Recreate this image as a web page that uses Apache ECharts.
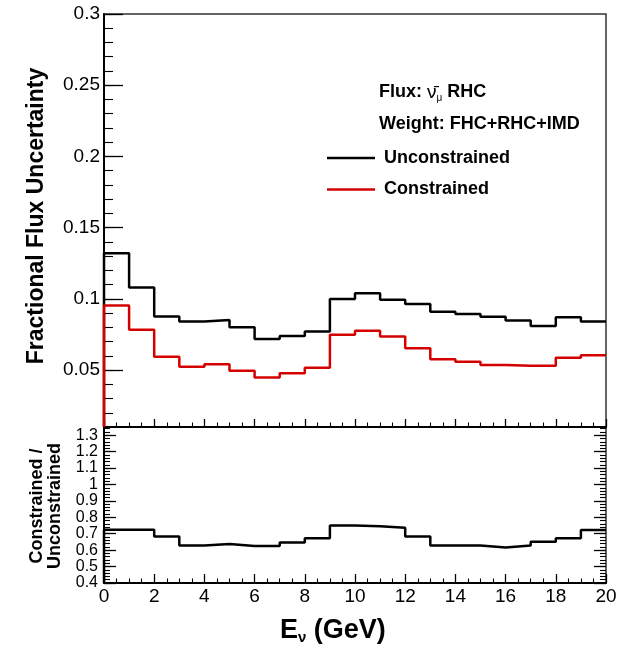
<!DOCTYPE html>
<html><head><meta charset="utf-8">
<script src="https://cdn.jsdelivr.net/npm/echarts@6/dist/echarts.min.js"></script>
<style>html,body{margin:0;padding:0;background:#fff}#c{width:634px;height:646px}</style>
</head><body><div id="c"></div>
<script>
// ---- data ----
const binEdges = [0,1,2,3,4,5,6,7,8,9,10,11,12,13,14,15,16,17,18,19,20];
const unconstrained = [0.132,0.108,0.0876,0.084,0.0852,0.080,0.0718,0.0739,0.077,0.0998,0.104,0.0993,0.0963,0.091,0.0894,0.0875,0.0847,0.081,0.0871,0.084];
const constrained   = [0.0953,0.0782,0.0594,0.0523,0.054,0.0495,0.0448,0.0477,0.0516,0.0748,0.0776,0.0735,0.0653,0.0575,0.0558,0.0535,0.053,0.053,0.0587,0.0604];
const ratio         = [0.725,0.724,0.683,0.628,0.637,0.626,0.626,0.646,0.673,0.75,0.746,0.737,0.683,0.628,0.628,0.616,0.628,0.651,0.673,0.723];
const topYLabels   = [0.05,0.1,0.15,0.2,0.25,0.3];
const ratioYLabels = [0.4,0.5,0.6,0.7,0.8,0.9,1,1.1,1.2,1.3];
const TOP_MIN = 0.01, TOP_MAX = 0.3;
const RATIO_MIN = 0.4, RATIO_MAX = 1.35;

const FONT = 'Liberation Sans, Arial, Helvetica, sans-serif';
const RED = '#d40000';

function histPoints(values, base) {
  const pts = [[binEdges[0], base]];
  values.forEach((v, i) => pts.push([binEdges[i], v]));
  pts.push([binEdges[values.length], values[values.length - 1]]);
  return pts;
}

const chart = echarts.init(document.getElementById('c'), null, {renderer: 'canvas'});

const xBase = (gridIndex, showLabels, majorLen, minorLen) => ({
  type: 'value', gridIndex, min: 0, max: 20, interval: 2,
  axisLine: {show: true, onZero: false, lineStyle: {color: '#000', width: 2}},
  axisTick: {show: true, inside: true, length: majorLen, lineStyle: {color: '#000', width: 1.3}},
  minorTick: {show: true, splitNumber: 4, length: minorLen, lineStyle: {color: '#000', width: 1.1}},
  axisLabel: {show: showLabels, fontSize: 19, color: '#000', fontFamily: FONT, margin: 4},
  splitLine: {show: false}, minorSplitLine: {show: false}
});

const yMinor = (gridIndex, min, max, interval, len, position, labels, labelSize, margin) => ({
  type: 'value', gridIndex, min, max, interval, position,
  axisLine: {show: position === 'left', onZero: false, lineStyle: {color: '#000', width: 2}},
  axisTick: {show: true, inside: true, length: len, lineStyle: {color: '#000', width: 1.1}},
  axisLabel: labels ? {show: true, customValues: labels, fontSize: labelSize, color: '#000', fontFamily: FONT, margin} : {show: false},
  splitLine: {show: false}
});
const yMajor = (gridIndex, min, max, values, len, position) => ({
  type: 'value', gridIndex, min, max, position,
  axisLine: {show: false},
  axisTick: {show: true, inside: true, length: len, customValues: values, lineStyle: {color: '#000', width: 1.3}},
  axisLabel: {show: false},
  splitLine: {show: false}
});

const option = {
  animation: false,
  backgroundColor: '#fff',
  grid: [
    {left: 104, right: 28, top: 14, height: 413, show: true, borderColor: '#333', borderWidth: 1.5, backgroundColor: '#fff'},
    {left: 104, right: 28, top: 427, height: 156, show: true, borderColor: '#333', borderWidth: 1.5, backgroundColor: '#fff'}
  ],
  xAxis: [xBase(0, false, 8, 4.5), xBase(1, true, 9, 4.5)],
  yAxis: [
    yMinor(0, TOP_MIN, TOP_MAX, 0.01, 9, 'left', topYLabels, 19, 4),
    yMajor(0, TOP_MIN, TOP_MAX, topYLabels, 19, 'left'),
    yMinor(1, RATIO_MIN, RATIO_MAX, 0.02, 6, 'left', ratioYLabels, 16, 6),
    yMajor(1, RATIO_MIN, RATIO_MAX, ratioYLabels, 12, 'left'),
    yMinor(1, RATIO_MIN, RATIO_MAX, 0.02, 6, 'right', null),
    yMajor(1, RATIO_MIN, RATIO_MAX, ratioYLabels, 12, 'right')
  ],
  legend: {
    data: ['Unconstrained', 'Constrained'],
    orient: 'vertical', left: 322, top: 143, itemGap: 11.5,
    icon: 'rect', itemWidth: 48, itemHeight: 2.5,
    textStyle: {fontSize: 18, fontWeight: 'bold', color: '#000', fontFamily: FONT, lineHeight: 20, padding: [0, 0, 0, 4]}
  },
  series: [
    {name: 'Unconstrained', type: 'line', step: 'end', xAxisIndex: 0, yAxisIndex: 0, showSymbol: false, symbol: 'none',
     lineStyle: {color: '#000', width: 2.5}, itemStyle: {color: '#000'}, data: histPoints(unconstrained, TOP_MIN), z: 3},
    {name: 'Constrained', type: 'line', step: 'end', xAxisIndex: 0, yAxisIndex: 0, showSymbol: false, symbol: 'none',
     lineStyle: {color: RED, width: 2.5}, itemStyle: {color: RED}, data: histPoints(constrained, TOP_MIN), z: 4},
    {name: 'Ratio', type: 'line', step: 'end', xAxisIndex: 1, yAxisIndex: 2, showSymbol: false, symbol: 'none',
     lineStyle: {color: '#000', width: 2.5}, itemStyle: {color: '#000'}, data: histPoints(ratio, RATIO_MIN), z: 3}
  ],
  graphic: [
    {type: 'text', left: 379, top: 83, z: 10, style: {
      text: '{b|Flux: }{n|ν̄}{s|μ}{b| RHC}',
      rich: {
        b: {fontSize: 18, fontWeight: 'bold', fontFamily: FONT, fill: '#000', lineHeight: 22},
        n: {fontSize: 19, fontWeight: 'normal', fontFamily: FONT, fill: '#000', lineHeight: 22},
        s: {fontSize: 10, fontWeight: 'normal', fontFamily: FONT, fill: '#000', lineHeight: 10, verticalAlign: 'bottom'}
      }}},
    {type: 'text', left: 379, top: 115, z: 10, style: {
      text: 'Weight: FHC+RHC+IMD', fontSize: 18, fontWeight: 'bold', fontFamily: FONT, fill: '#000'}},
    {type: 'text', x: 37, y: 216, rotation: Math.PI / 2, z: 10, style: {
      text: 'Fractional Flux Uncertainty', fontSize: 23, fontWeight: 'bold', fontFamily: FONT, fill: '#000',
      align: 'center', verticalAlign: 'middle'}},
    {type: 'text', x: 46, y: 506, rotation: Math.PI / 2, z: 10, style: {
      text: 'Constrained /\nUnconstrained', fontSize: 18, lineHeight: 18.5, fontWeight: 'bold', fontFamily: FONT, fill: '#000',
      align: 'center', verticalAlign: 'middle'}},
    {type: 'text', left: 280, top: 617, z: 10, style: {
      text: '{b|E}{s|ν}{b| (GeV)}',
      rich: {
        b: {fontSize: 27, fontWeight: 'bold', fontFamily: FONT, fill: '#000', lineHeight: 30},
        s: {fontSize: 15, fontWeight: 'bold', fontFamily: FONT, fill: '#000', lineHeight: 12, verticalAlign: 'bottom'}
      }}}
  ]
};
chart.setOption(option);
</script></body></html>
